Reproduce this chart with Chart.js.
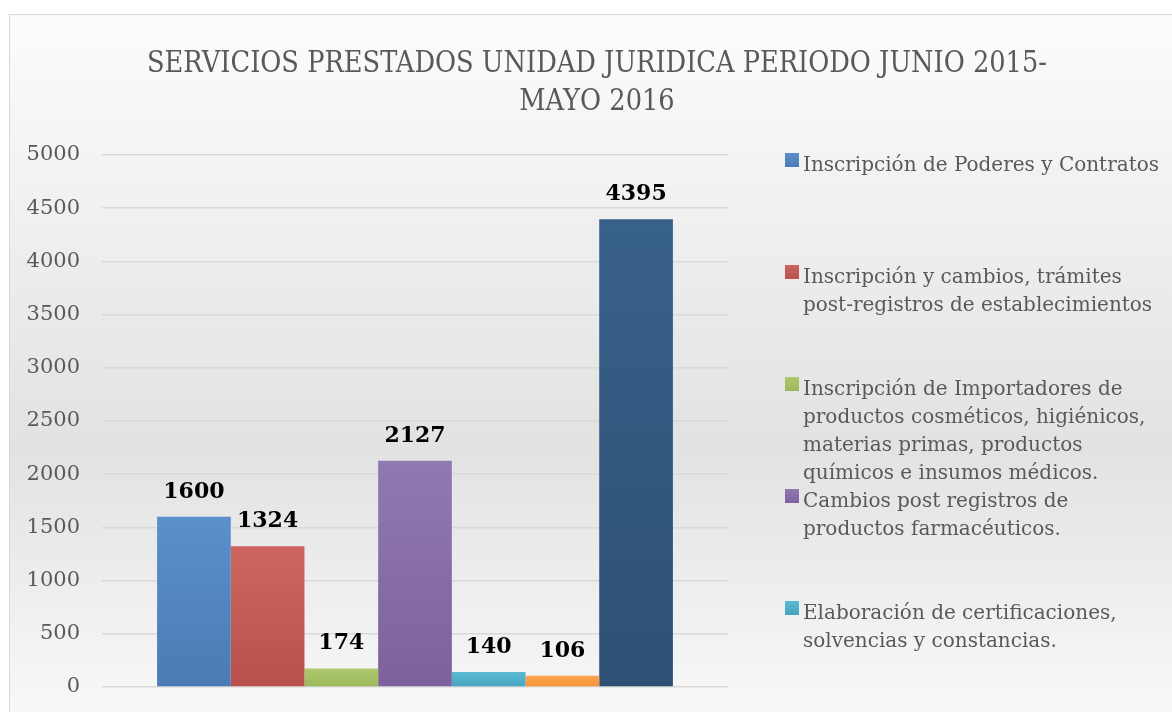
<!DOCTYPE html>
<html>
<head>
<meta charset="utf-8">
<script src="https://cdn.jsdelivr.net/npm/chart.js@4.4.0/dist/chart.umd.min.js"></script>
<style>
  html, body { margin: 0; padding: 0; background: #fff; overflow: hidden; }
  #wrap { position: relative; width: 1172px; height: 712px; }
</style>
</head>
<body>
<div id="wrap"><canvas id="chart" width="1172" height="712"></canvas></div>
<script>
// data
const titleLines = ['SERVICIOS PRESTADOS UNIDAD JURIDICA PERIODO JUNIO 2015-', 'MAYO 2016'];
const categories = [''];
const seriesNames = [
  ['Inscripción de Poderes y Contratos'],
  ['Inscripción y cambios, trámites', 'post-registros de establecimientos'],
  ['Inscripción de Importadores de', 'productos cosméticos, higiénicos,', 'materias primas, productos', 'químicos e insumos médicos.'],
  ['Cambios post registros de', 'productos farmacéuticos.'],
  ['Elaboración de certificaciones,', 'solvencias y constancias.'],
  ['Otros servicios'],
  ['Otros trámites']
];
const seriesValues = [1600, 1324, 174, 2127, 140, 106, 4395];
const seriesColors = [
  ['#5b90ca', '#4a7bb5'],
  ['#cd6661', '#b8504b'],
  ['#b0c871', '#9ab858'],
  ['#9079b0', '#7d619d'],
  ['#5bb9d2', '#46a6c0'],
  ['#fba553', '#f59231'],
  ['#38618a', '#2e5074']
];
const yMin = 0, yMax = 5000, yStep = 500;

const FONT = 'DejaVu Serif';
const TEXT = '#595959';

function barFill(i) {
  return (ctx) => {
    const chart = ctx.chart;
    const area = chart.chartArea;
    if (!area) return seriesColors[i][0];
    const top = chart.scales.y.getPixelForValue(seriesValues[i]);
    const g = chart.ctx.createLinearGradient(0, top, 0, area.bottom);
    g.addColorStop(0, seriesColors[i][0]);
    g.addColorStop(1, seriesColors[i][1]);
    return g;
  };
}

const backdrop = {
  id: 'backdrop',
  beforeDraw(chart) {
    const { ctx, width, height } = chart;
    ctx.save();
    ctx.fillStyle = '#ffffff';
    ctx.fillRect(0, 0, width, height);
    const g = ctx.createLinearGradient(0, 14, 0, height);
    g.addColorStop(0, '#fcfcfc');
    g.addColorStop(0.62, '#e2e2e2');
    g.addColorStop(1, '#f8f8f8');
    ctx.fillStyle = g;
    ctx.fillRect(9.5, 14.5, width, height);
    ctx.strokeStyle = '#d9d9d9';
    ctx.lineWidth = 1;
    ctx.strokeRect(9.5, 14.5, width + 10, height + 10);

    // title
    ctx.fillStyle = TEXT;
    ctx.font = '30px "' + FONT + '"';
    ctx.textAlign = 'center';
    ctx.textBaseline = 'alphabetic';
    const sx = 900 / ctx.measureText(titleLines[0]).width;
    const baselines = [72, 110];
    titleLines.forEach((line, k) => {
      ctx.save();
      ctx.translate(597, baselines[k]);
      ctx.scale(sx, 1);
      ctx.fillText(line, 0, 0);
      ctx.restore();
    });
    ctx.restore();
  }
};

const valueLabels = {
  id: 'valueLabels',
  afterDatasetsDraw(chart) {
    const ctx = chart.ctx;
    ctx.save();
    ctx.fillStyle = '#000';
    ctx.font = 'bold 22px "' + FONT + '"';
    ctx.textAlign = 'center';
    ctx.textBaseline = 'alphabetic';
    chart.data.datasets.forEach((ds, i) => {
      const bar = chart.getDatasetMeta(i).data[0];
      ctx.fillText(String(ds.data[0]), bar.x, bar.y - 19);
    });
    ctx.restore();
  }
};

const sideLegend = {
  id: 'sideLegend',
  afterDraw(chart) {
    const ctx = chart.ctx;
    const area = chart.chartArea;
    const boxX = area.right + 57;
    const textX = boxX + 18;
    ctx.save();
    ctx.font = '20px "' + FONT + '"';
    ctx.textAlign = 'left';
    ctx.textBaseline = 'alphabetic';
    chart.data.datasets.forEach((ds, i) => {
      const base = area.top + 16 + i * 112;
      const g = ctx.createLinearGradient(0, base - 18, 0, base - 4);
      g.addColorStop(0, seriesColors[i][0]);
      g.addColorStop(1, seriesColors[i][1]);
      ctx.fillStyle = g;
      ctx.fillRect(boxX, base - 18, 14, 14);
      ctx.fillStyle = TEXT;
      ds.label.forEach((line, k) => ctx.fillText(line, textX, base + k * 28));
    });
    ctx.restore();
  }
};

new Chart(document.getElementById('chart').getContext('2d'), {
  type: 'bar',
  data: {
    labels: categories,
    datasets: seriesValues.map((v, i) => ({
      label: seriesNames[i],
      data: [v],
      backgroundColor: barFill(i),
      borderWidth: 0,
      categoryPercentage: 0.824,
      barPercentage: 1
    }))
  },
  options: {
    responsive: false,
    animation: false,
    devicePixelRatio: 1,
    layout: { padding: { left: 9, right: 444, top: 155, bottom: 25 } },
    plugins: {
      legend: { display: false },
      title: { display: false },
      tooltip: { enabled: false }
    },
    scales: {
      x: { display: false },
      y: {
        min: yMin,
        max: yMax,
        afterFit(scale) {
          scale.width = 93;
          scale.paddingTop = 0;
          scale.paddingBottom = 0;
        },
        ticks: {
          stepSize: yStep,
          padding: 22,
          color: TEXT,
          font: { family: FONT, size: 21 },
          callback: (v) => String(v)
        },
        grid: { color: '#d9d9d9', lineWidth: 1.5, drawTicks: false },
        border: { display: false }
      }
    }
  },
  plugins: [backdrop, valueLabels, sideLegend]
});
</script>
</body>
</html>
